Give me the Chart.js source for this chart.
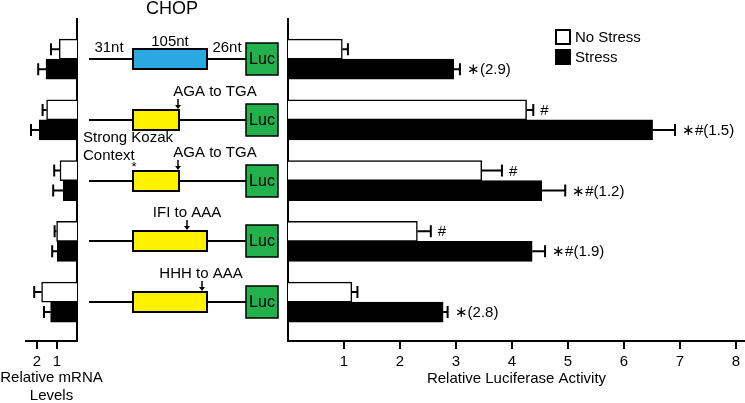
<!DOCTYPE html>
<html>
<head>
<meta charset="utf-8">
<script src="https://cdn.jsdelivr.net/npm/chart.js@4.4.1/dist/chart.umd.min.js"></script>
<style>
    html, body { margin: 0; padding: 0; background: #fff; }
    body { width: 745px; height: 403px; position: relative; overflow: hidden; }
    #mrna-wrap { position: absolute; left: 0; top: 0; width: 110px; height: 403px; z-index: 2; }
    #luc-wrap { position: absolute; left: 80px; top: 0; width: 665px; height: 403px; z-index: 1; }
</style>
</head>
<body>
<div id="mrna-wrap"><canvas id="mrna-chart"></canvas></div>
<div id="luc-wrap"><canvas id="luc-chart"></canvas></div>
<script>
// constructs, top to bottom
const constructs = ['CHOP', 'AGA to TGA', 'Strong Kozak AGA to TGA', 'IFI to AAA', 'HHH to AAA'];
const mutationLabels = ['', 'AGA to TGA', 'AGA to TGA', 'IFI to AAA', 'HHH to AAA'];
const seriesNames = ['No Stress', 'Stress'];

// relative luciferase activity
const lucNoStress = [0.97, 4.26, 3.46, 2.31, 1.14];
const lucNoStressErr = [0.10, 0.12, 0.36, 0.24, 0.10];
const lucStress = [2.96, 6.51, 4.53, 4.36, 2.77];
const lucStressErr = [0.11, 0.40, 0.42, 0.23, 0.08];
const lucNoStressNotes = ['', '#', '#', '#', ''];
const lucStressNotes = ['\u2217(2.9)', '\u2217#(1.5)', '\u2217#(1.2)', '\u2217#(1.9)', '\u2217(2.8)'];
const lucTicks = [1, 2, 3, 4, 5, 6, 7, 8];

// relative mRNA levels
const mrnaNoStress = [0.89, 1.52, 0.85, 1.02, 1.77];
const mrnaNoStressErr = [0.41, 0.20, 0.29, 0.10, 0.37];
const mrnaStress = [1.55, 1.89, 0.69, 0.99, 1.32];
const mrnaStressErr = [0.39, 0.41, 0.50, 0.25, 0.33];
const mrnaTicks = [1, 2];
const mrnaTitle = ['Relative mRNA', 'Levels'];

const FONT = '"Liberation Sans", Arial, sans-serif';
Chart.defaults.font.family = FONT;
Chart.defaults.font.size = 15;
Chart.defaults.color = '#000';

const OX = 80; // page x of the luciferase canvas

function toPoints(values) {
    return values.map((v, i) => ({ x: v, y: i }));
}

const errorBarsPlugin = {
    id: 'errorBars',
    afterDatasetsDraw(chart) {
        const ctx = chart.ctx;
        const xScale = chart.scales.x;
        chart.data.datasets.forEach((ds, di) => {
            const meta = chart.getDatasetMeta(di);
            meta.data.forEach((bar, i) => {
                const end = xScale.getPixelForValue(ds.data[i].x + ds.errors[i]);
                ctx.save();
                ctx.strokeStyle = '#000';
                ctx.lineWidth = 2;
                ctx.beginPath();
                ctx.moveTo(bar.x, bar.y);
                ctx.lineTo(end, bar.y);
                ctx.moveTo(end, bar.y - 6);
                ctx.lineTo(end, bar.y + 6);
                ctx.stroke();
                if (ds.notes && ds.notes[i]) {
                    ctx.fillStyle = '#000';
                    ctx.font = '15px ' + FONT;
                    ctx.textAlign = 'left';
                    ctx.textBaseline = 'middle';
                    ctx.fillText(ds.notes[i], end + 7, bar.y + 1);
                }
                ctx.restore();
            });
        });
    }
};

// two-line axis title that may run wider than the small axis
const wideTitlePlugin = {
    id: 'wideTitle',
    afterDraw(chart) {
        const ctx = chart.ctx;
        const area = chart.chartArea;
        const cx = (area.left + area.right) / 2;
        ctx.save();
        ctx.fillStyle = '#000';
        ctx.font = '15px ' + FONT;
        ctx.textAlign = 'center';
        ctx.textBaseline = 'middle';
        mrnaTitle.forEach((line, i) => ctx.fillText(line, cx, 378 + i * 18));
        ctx.restore();
    }
};

// legend in the top right of the luciferase panel
const boxLegendPlugin = {
    id: 'boxLegend',
    afterDraw(chart) {
        const ctx = chart.ctx;
        ctx.save();
        chart.data.datasets.forEach((ds, i) => {
            const top = 30 + i * 20;
            ctx.fillStyle = ds.backgroundColor;
            ctx.fillRect(556 - OX, top, 14, 14);
            ctx.strokeStyle = '#000';
            ctx.lineWidth = 2;
            ctx.strokeRect(556 - OX, top, 14, 14);
            ctx.fillStyle = '#000';
            ctx.font = '15px ' + FONT;
            ctx.textAlign = 'left';
            ctx.textBaseline = 'middle';
            ctx.fillText(ds.label, 575 - OX, top + 8);
        });
        ctx.restore();
    }
};

// construct diagrams, one per row, placed on the y scale
const schematicPlugin = {
    id: 'schematic',
    afterDraw(chart) {
        const ctx = chart.ctx;
        const yScale = chart.scales.y;
        const px = v => v - OX;
        const orfEnds = [207, 179, 179, 207, 207];
        const labelX = [0, 215, 215, 187, 201];
        const arrowX = [0, 178, 178, 187, 202];

        ctx.save();
        ctx.fillStyle = '#000';
        ctx.textAlign = 'center';
        ctx.textBaseline = 'middle';
        ctx.font = '18px ' + FONT;
        ctx.fillText('CHOP', px(172), 9);

        constructs.forEach((name, i) => {
            const c = Math.round(yScale.getPixelForValue(i));

            // backbone
            ctx.strokeStyle = '#000';
            ctx.lineWidth = 2;
            ctx.beginPath();
            ctx.moveTo(px(89), c);
            ctx.lineTo(px(246), c);
            ctx.stroke();

            // uORF box
            ctx.fillStyle = i === 0 ? '#2aa9e0' : '#fff200';
            ctx.fillRect(px(133), c - 10, orfEnds[i] - 133, 20);
            ctx.strokeRect(px(133), c - 10, orfEnds[i] - 133, 20);

            // Luc box
            ctx.fillStyle = '#22b14c';
            ctx.fillRect(px(246), c - 16, 32, 32);
            ctx.lineWidth = 1.5;
            ctx.strokeRect(px(246), c - 16, 32, 32);
            ctx.fillStyle = '#000';
            ctx.font = '16px ' + FONT;
            ctx.textAlign = 'center';
            ctx.fillText('Luc', px(262), c + 1);

            ctx.font = '15px ' + FONT;
            if (i === 0) {
                ctx.fillText('31nt', px(109), c - 11);
                ctx.fillText('105nt', px(170), c - 17);
                ctx.fillText('26nt', px(227), c - 11);
            } else {
                ctx.fillText(mutationLabels[i], px(labelX[i]), c - 28);
                // arrow pointing at the mutation
                ctx.lineWidth = 1.5;
                ctx.beginPath();
                ctx.moveTo(px(arrowX[i]), c - 21);
                ctx.lineTo(px(arrowX[i]), c - 14);
                ctx.stroke();
                ctx.beginPath();
                ctx.moveTo(px(arrowX[i]) - 3, c - 15);
                ctx.lineTo(px(arrowX[i]) + 3, c - 15);
                ctx.lineTo(px(arrowX[i]), c - 11);
                ctx.closePath();
                ctx.fill();
            }
            if (i === 2) {
                ctx.textAlign = 'left';
                ctx.fillText('Strong Kozak', px(83), c - 43);
                ctx.fillText('Context', px(83), c - 25);
                ctx.font = '13px ' + FONT;
                ctx.textAlign = 'center';
                ctx.fillText('*', px(134), c - 14);
            }
        });
        ctx.restore();
    }
};

function barDataset(label, values, errors, notes, color) {
    return {
        label,
        data: toPoints(values),
        errors,
        notes,
        backgroundColor: color,
        borderColor: '#000',
        borderWidth: 1.5,
        barThickness: 20
    };
}

const rowScale = {
    type: 'linear',
    reverse: true,
    min: -0.42,
    max: 4.40,
    ticks: { display: false },
    grid: { display: false },
    border: { display: true, color: '#000', width: 2 },
    afterFit: s => { s.width = 0; }
};

new Chart(document.getElementById('mrna-chart'), {
    type: 'bar',
    data: {
        datasets: [
            barDataset(seriesNames[0], mrnaNoStress, mrnaNoStressErr, null, '#ffffff'),
            barDataset(seriesNames[1], mrnaStress, mrnaStressErr, null, '#000000')
        ]
    },
    options: {
        indexAxis: 'y',
        responsive: true,
        maintainAspectRatio: false,
        animation: false,
        layout: { padding: { left: 26, right: 33, top: 19, bottom: 0 } },
        scales: {
            x: {
                type: 'linear',
                reverse: true,
                min: 0,
                max: 2.55,
                afterBuildTicks: s => { s.ticks = mrnaTicks.map(v => ({ value: v })); },
                afterFit: s => { s.height = 62; },
                ticks: { padding: 4, maxRotation: 0 },
                grid: { display: true, drawOnChartArea: false, drawTicks: true, tickLength: 8, color: '#000', lineWidth: 2 },
                border: { display: true, color: '#000', width: 2 }
            },
            y: Object.assign({}, rowScale, { position: 'right' })
        },
        plugins: { legend: { display: false }, tooltip: { enabled: false } }
    },
    plugins: [errorBarsPlugin, wideTitlePlugin]
});

new Chart(document.getElementById('luc-chart'), {
    type: 'bar',
    data: {
        datasets: [
            barDataset(seriesNames[0], lucNoStress, lucNoStressErr, lucNoStressNotes, '#ffffff'),
            barDataset(seriesNames[1], lucStress, lucStressErr, lucStressNotes, '#000000')
        ]
    },
    options: {
        indexAxis: 'y',
        responsive: true,
        maintainAspectRatio: false,
        animation: false,
        layout: { padding: { left: 208, right: 0, top: 19, bottom: 0 } },
        scales: {
            x: {
                type: 'linear',
                min: 0,
                max: 8.16,
                afterBuildTicks: s => { s.ticks = lucTicks.map(v => ({ value: v })); },
                afterFit: s => { s.height = 62; },
                ticks: { padding: 4, maxRotation: 0 },
                grid: { display: true, drawOnChartArea: false, drawTicks: true, tickLength: 8, color: '#000', lineWidth: 2 },
                border: { display: true, color: '#000', width: 2 },
                title: { display: true, text: 'Relative Luciferase Activity', padding: { top: 0, bottom: 15 } }
            },
            y: Object.assign({}, rowScale, { position: 'left' })
        },
        plugins: { legend: { display: false }, tooltip: { enabled: false } }
    },
    plugins: [errorBarsPlugin, boxLegendPlugin, schematicPlugin]
});
</script>
</body>
</html>
